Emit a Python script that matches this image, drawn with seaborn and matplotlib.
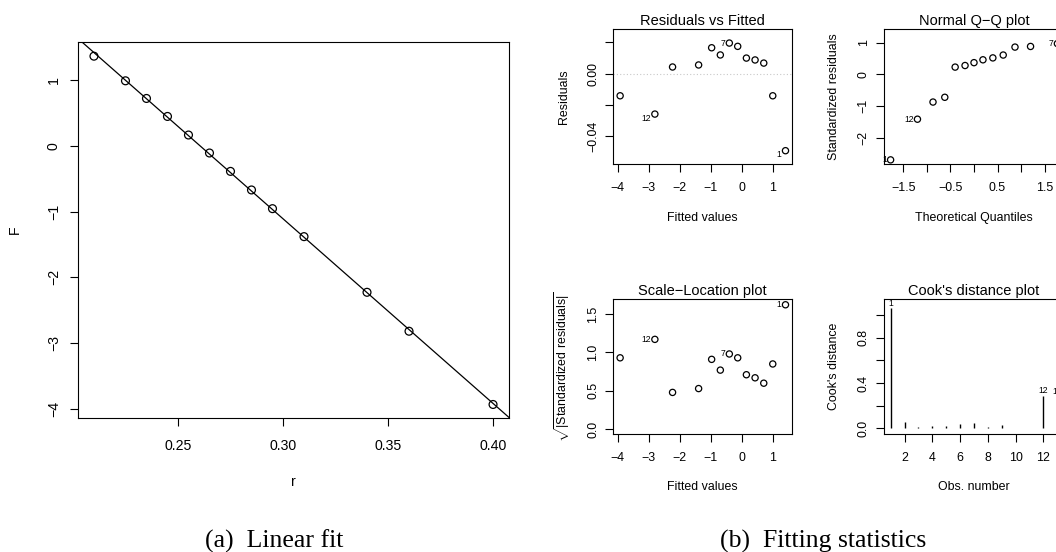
import numpy as np
import pandas as pd
import matplotlib
matplotlib.use("Agg")
import matplotlib.pyplot as plt
import seaborn as sns

# ---------------- data ----------------
r_vals = [0.21, 0.225, 0.235, 0.245, 0.255, 0.265, 0.275, 0.285, 0.295, 0.31, 0.34, 0.36, 0.40]
F_vals = [1.37, 0.995, 0.726, 0.452, 0.169, -0.105, -0.385, -0.668, -0.953, -1.379, -2.227, -2.82, -3.936]

obs_number = list(range(1, 14))
fitted_vals = [1.41, 1.00, 0.71, 0.43, 0.15, -0.13, -0.40, -0.69, -0.97, -1.39, -2.23, -2.80, -3.92]
residual_vals = [-0.0492, -0.0141, 0.0068, 0.0088, 0.0100, 0.0175, 0.0196, 0.0120, 0.0166,
                 0.0056, 0.0043, -0.0258, -0.0141]
sqrt_std_resid = [1.62, 0.85, 0.60, 0.67, 0.71, 0.93, 0.98, 0.77, 0.91, 0.53, 0.48, 1.17, 0.93]

qq_theoretical = [-1.77, -1.20, -0.87, -0.62, -0.40, -0.19, 0.0, 0.19, 0.40, 0.62, 0.87, 1.20, 1.77]
qq_std_resid = [-2.69, -1.41, -0.87, -0.72, 0.23, 0.28, 0.37, 0.46, 0.52, 0.61, 0.86, 0.88, 0.97]
qq_obs_id = [1, 12, 2, 13, 11, 10, 3, 4, 5, 8, 9, 6, 7]

cooks_vals = [1.06, 0.056, 0.01, 0.022, 0.02, 0.04, 0.045, 0.015, 0.03, 0.005, 0.005, 0.29, 0.28]

flag_ids = [1, 7, 12]
cook_flag_ids = [1, 12, 13]

left_xticks = [0.25, 0.30, 0.35, 0.40]
left_yticks = [-4, -3, -2, -1, 0, 1]
fit_xticks = [-4, -3, -2, -1, 0, 1]
resid_yticks = [-0.04, -0.02, 0.0, 0.02]
resid_yticklabels = ["\u22120.04", "", "0.00", ""]
qq_xticks = [-1.5, -1.0, -0.5, 0.0, 0.5, 1.0, 1.5]
qq_xticklabels = ["\u22121.5", "", "\u22120.5", "", "0.5", "", "1.5"]
qq_yticks = [-2, -1, 0, 1]
sl_yticks = [0.0, 0.5, 1.0, 1.5]
sl_yticklabels = ["0.0", "0.5", "1.0", "1.5"]
cook_xticks = [2, 4, 6, 8, 10, 12]
cook_yticks = [0.0, 0.2, 0.4, 0.6, 0.8, 1.0]
cook_yticklabels = ["0.0", "", "0.4", "", "0.8", ""]

# ---------------- style ----------------
plt.rcParams["font.family"] = ["Liberation Sans", "DejaVu Sans"]
plt.rcParams["mathtext.fontset"] = "custom"
plt.rcParams["mathtext.rm"] = "Liberation Sans"
plt.rcParams["mathtext.it"] = "Liberation Sans:italic"
plt.rcParams["axes.unicode_minus"] = True

W, H = 1056, 552
fig = plt.figure(figsize=(W / 100, H / 100), dpi=100)


def px_axes(x0, y0, x1, y1):
    return fig.add_axes([x0 / W, 1 - y1 / H, (x1 - x0) / W, (y1 - y0) / H])


def style_axes(ax, fs, ticklen, xpad, ypad):
    for s in ax.spines.values():
        s.set_color("black")
        s.set_linewidth(0.8)
    ax.tick_params(axis="both", direction="out", length=ticklen, width=0.8,
                   colors="black", labelsize=fs)
    ax.tick_params(axis="x", pad=xpad)
    ax.tick_params(axis="y", pad=ypad)


def rotate_yticklabels(ax):
    for lab in ax.get_yticklabels():
        lab.set_rotation(90)
        lab.set_va("center")
        lab.set_ha("right")


# ---------------- (a) linear fit ----------------
axL = px_axes(78, 42, 509, 418)
dfL = pd.DataFrame({"r": r_vals, "F": F_vals})
sns.scatterplot(data=dfL, x="r", y="F", ax=axL, marker="o", s=32,
                facecolor="none", edgecolor="black", linewidth=0.9, zorder=3)
axL.set_xlim(0.2024, 0.4076)
axL.set_ylim(-4.142, 1.586)
sns.regplot(data=dfL, x="r", y="F", ax=axL, scatter=False, ci=None, truncate=False,
            line_kws={"color": "black", "linewidth": 0.9})
axL.set_xlim(0.2024, 0.4076)
axL.set_ylim(-4.142, 1.586)
axL.set_xticks(left_xticks)
axL.set_xticklabels([f"{v:.2f}" for v in left_xticks])
axL.set_yticks(left_yticks)
axL.set_yticklabels([str(v).replace("-", "\u2212") for v in left_yticks])
style_axes(axL, 10.2, 5.8, 9.0, 6.5)
rotate_yticklabels(axL)
axL.set_xlabel("r", fontsize=10.2, labelpad=16)
axL.set_ylabel("F", fontsize=10.2, labelpad=18)

SMALL = 8.9
TITLE = 10.5
ID_FS = 6.2


def small_setup(ax, title, xlabel, ylabel):
    style_axes(ax, SMALL, 5.8, 7.3, 4.4)
    rotate_yticklabels(ax)
    ax.set_title(title, fontsize=TITLE, pad=3)
    ax.set_xlabel(xlabel, fontsize=SMALL, labelpad=12.5)
    ax.set_ylabel(ylabel, fontsize=SMALL, labelpad=12.5)


def add_ids(ax, xs, ys, ids, dys):
    for x, y, i, dy in zip(xs, ys, ids, dys):
        ax.annotate(str(i), (x, y), xytext=(-2.8, dy), textcoords="offset points",
                    ha="right", va="center", fontsize=ID_FS, annotation_clip=False)


# ---------------- Residuals vs Fitted ----------------
ax1 = px_axes(613.3, 29.3, 792, 164.3)
df1 = pd.DataFrame({"fitted": fitted_vals, "resid": residual_vals, "obs": obs_number})
ax1.axhline(0, color="#c8c8c8", linestyle=(0, (1, 2)), linewidth=0.8, zorder=1)
sns.scatterplot(data=df1, x="fitted", y="resid", ax=ax1, marker="o", s=20,
                facecolor="none", edgecolor="black", linewidth=0.9, zorder=3)
ax1.set_xlim(-4.14, 1.62)
ax1.set_ylim(-0.0579, 0.0284)
ax1.set_xticks(fit_xticks)
ax1.set_xticklabels([str(v).replace("-", "\u2212") for v in fit_xticks])
ax1.set_yticks(resid_yticks)
ax1.set_yticklabels(resid_yticklabels)
small_setup(ax1, "Residuals vs Fitted", "Fitted values", "Residuals")
sel = df1[df1.obs.isin(flag_ids)]
add_ids(ax1, sel.fitted, sel.resid, sel.obs, [-3 if v < 0 else 0 for v in sel.resid])

# ---------------- Normal Q-Q ----------------
ax2 = px_axes(884, 29.3, 1064, 164)
df2 = pd.DataFrame({"theo": qq_theoretical, "std": qq_std_resid, "obs": qq_obs_id})
sns.scatterplot(data=df2, x="theo", y="std", ax=ax2, marker="o", s=20,
                facecolor="none", edgecolor="black", linewidth=0.9, zorder=3)
ax2.set_xlim(-1.91, 1.91)
ax2.set_ylim(-2.82, 1.42)
ax2.set_xticks(qq_xticks)
ax2.set_xticklabels(qq_xticklabels)
ax2.set_yticks(qq_yticks)
ax2.set_yticklabels([str(v).replace("-", "\u2212") for v in qq_yticks])
small_setup(ax2, "Normal Q\u2212Q plot", "Theoretical Quantiles", "Standardized residuals")
sel = df2[df2.obs.isin(flag_ids)]
add_ids(ax2, sel.theo, sel["std"], sel.obs, [0] * len(sel))

# ---------------- Scale-Location ----------------
ax3 = px_axes(613.3, 299, 792, 433.7)
df3 = pd.DataFrame({"fitted": fitted_vals, "sq": sqrt_std_resid, "obs": obs_number})
sns.scatterplot(data=df3, x="fitted", y="sq", ax=ax3, marker="o", s=20,
                facecolor="none", edgecolor="black", linewidth=0.9, zorder=3)
ax3.set_xlim(-4.14, 1.62)
ax3.set_ylim(-0.057, 1.695)
ax3.set_xticks(fit_xticks)
ax3.set_xticklabels([str(v).replace("-", "\u2212") for v in fit_xticks])
ax3.set_yticks(sl_yticks)
ax3.set_yticklabels(sl_yticklabels)
small_setup(ax3, "Scale\u2212Location plot", "Fitted values",
            r"$\sqrt{|\mathrm{Standardized\ residuals}|}$")
ax3.yaxis.labelpad = 11
sel = df3[df3.obs.isin(flag_ids)]
add_ids(ax3, sel.fitted, sel.sq, sel.obs, [0] * len(sel))

# ---------------- Cook's distance ----------------
ax4 = px_axes(884, 299, 1064, 433.7)
ax4.vlines(obs_number, 0, cooks_vals, color="black", linewidth=1.0)
ax4.set_xlim(0.52, 13.48)
ax4.set_ylim(-0.047, 1.142)
ax4.set_xticks(cook_xticks)
ax4.set_xticklabels([str(v) for v in cook_xticks])
ax4.set_yticks(cook_yticks)
ax4.set_yticklabels(cook_yticklabels)
small_setup(ax4, "Cook's distance plot", "Obs. number", "Cook's distance")
for i in cook_flag_ids:
    ax4.annotate(str(i), (i, cooks_vals[i - 1]), xytext=(0, 0.5), textcoords="offset points",
                 ha="center", va="bottom", fontsize=ID_FS, annotation_clip=False)

# ---------------- captions ----------------
cap_kw = dict(ha="center", va="baseline", fontsize=18.5, family="Liberation Serif")
fig.text(274 / W, 1 - 547.5 / H, "(a)  Linear fit", **cap_kw)
fig.text(823 / W, 1 - 547.5 / H, "(b)  Fitting statistics", **cap_kw)

fig.savefig("out.png", dpi=100)
